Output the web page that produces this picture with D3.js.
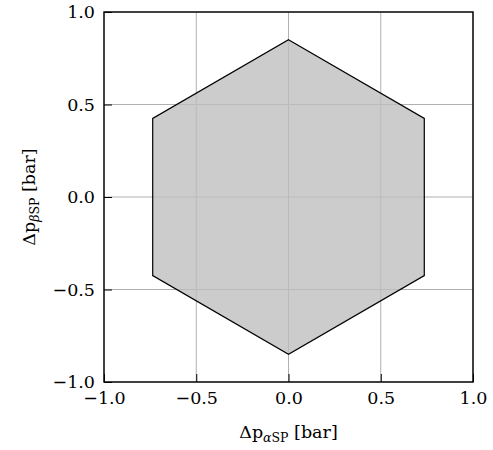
<!DOCTYPE html>
<html>
<head>
<meta charset="utf-8">
<script src="https://cdn.jsdelivr.net/npm/d3@7"></script>
<style>
  body { margin: 0; background: #fff; }
  text { font-family: "DejaVu Serif", serif; fill: #000; }
</style>
</head>
<body>
<svg width="493" height="450"></svg>
<script>
'use strict';

// hexagon corner points
var hexX = [0, 0.736, 0.736, 0, -0.736, -0.736];
var hexY = [0.85, 0.425, -0.425, -0.85, -0.425, 0.425];
var xTicks = [-1.0, -0.5, 0.0, 0.5, 1.0];
var yTicks = [-1.0, -0.5, 0.0, 0.5, 1.0];

var svg = d3.select('svg');
var plotL = 104, plotR = 473, plotT = 12, plotB = 382;

var x = d3.scaleLinear().domain([-1, 1]).range([plotL, plotR]);
var y = d3.scaleLinear().domain([-1, 1]).range([plotB, plotT]);

var fmt = function (v) { return d3.format('.1f')(v).replace('-', '\u2212').replace('\u22120.0', '0.0'); };

// grid
var grid = svg.append('g');
grid.selectAll('.gx').data(xTicks).enter().append('line')
  .attr('x1', function (d) { return x(d); }).attr('x2', function (d) { return x(d); })
  .attr('y1', plotT).attr('y2', plotB)
  .attr('stroke', '#b0b0b0').attr('stroke-width', 1);
grid.selectAll('.gy').data(yTicks).enter().append('line')
  .attr('y1', function (d) { return y(d); }).attr('y2', function (d) { return y(d); })
  .attr('x1', plotL).attr('x2', plotR)
  .attr('stroke', '#b0b0b0').attr('stroke-width', 1);

// hexagon
var pts = hexX.map(function (v, i) { return [x(v), y(hexY[i])]; });
svg.append('path')
  .attr('d', d3.line()(pts) + 'Z')
  .attr('fill', '#bebebe').attr('fill-opacity', 0.785)
  .attr('stroke', '#000').attr('stroke-width', 1.2)
  .attr('stroke-linejoin', 'miter');

// axes (inward ticks, bottom and left only)
var xAxis = svg.append('g').attr('transform', 'translate(0,' + plotB + ')')
  .call(d3.axisBottom(x).tickValues(xTicks).tickSize(-8).tickPadding(18).tickFormat(fmt));
var yAxis = svg.append('g').attr('transform', 'translate(' + plotL + ',0)')
  .call(d3.axisLeft(y).tickValues(yTicks).tickSize(-8).tickPadding(18).tickFormat(fmt));

[xAxis, yAxis].forEach(function (a) {
  a.select('.domain').remove();
  a.selectAll('.tick line').attr('stroke', '#000').attr('stroke-width', 1);
  a.selectAll('.tick text').attr('font-family', '"DejaVu Serif", serif').attr('font-size', 17.5).attr('fill', '#000');
});
xAxis.selectAll('.tick text').attr('dy', '0.71em').attr('y', 10);
yAxis.selectAll('.tick text').attr('x', -9);

// frame
svg.append('rect')
  .attr('x', plotL).attr('y', plotT).attr('width', plotR - plotL).attr('height', plotB - plotT)
  .attr('fill', 'none').attr('stroke', '#000').attr('stroke-width', 1.4);

// axis labels
var xl = svg.append('text').attr('x', x(0)).attr('y', 438)
  .attr('text-anchor', 'middle').attr('font-size', 17.5);
xl.append('tspan').text('\u0394p');
xl.append('tspan').attr('font-size', 12.5).attr('dy', 4).attr('font-style', 'italic').text('\u03b1');
xl.append('tspan').attr('font-size', 12.5).text('SP');
xl.append('tspan').attr('dy', -4).text(' [bar]');

var yl = svg.append('text')
  .attr('transform', 'translate(35,' + y(0) + ') rotate(-90)')
  .attr('text-anchor', 'middle').attr('font-size', 17.5);
yl.append('tspan').text('\u0394p');
yl.append('tspan').attr('font-size', 12.5).attr('dy', 4).attr('font-style', 'italic').text('\u03b2');
yl.append('tspan').attr('font-size', 12.5).text('SP');
yl.append('tspan').attr('dy', -4).text(' [bar]');
</script>
</body>
</html>
